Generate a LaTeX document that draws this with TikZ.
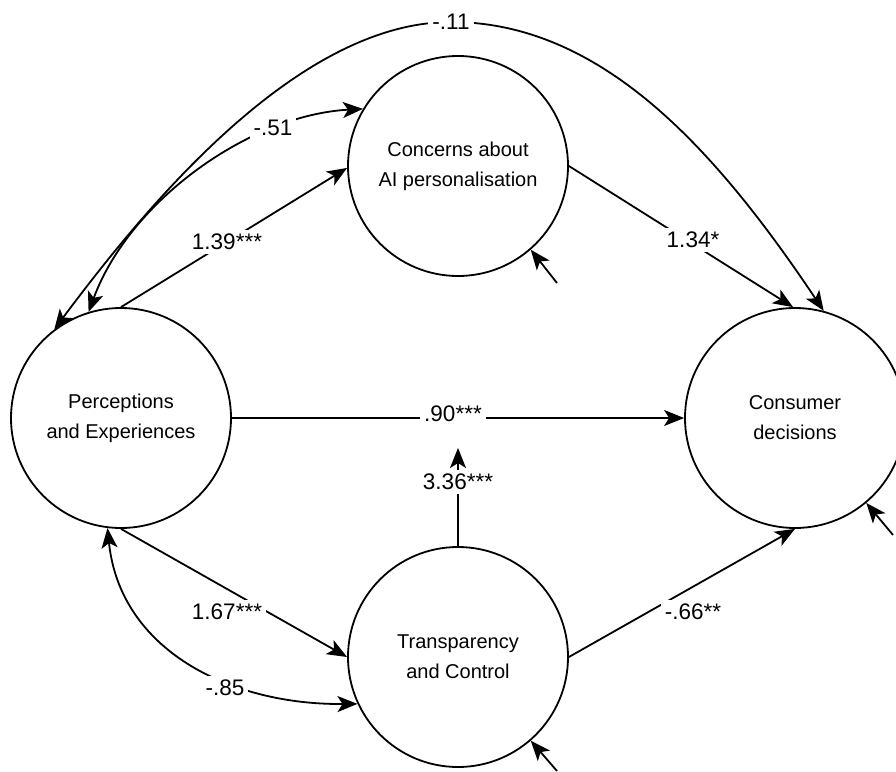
\documentclass[tikz,border=0pt]{standalone}
\usepackage{fontspec}
\setmainfont{Liberation Sans}
\usetikzlibrary{arrows.meta}
\begin{document}
\begin{tikzpicture}[x=1pt,y=-1pt,
  latent/.style={circle,draw,line width=1.8pt,minimum size=220pt,inner sep=0pt,align=center,font=\fontsize{20}{30}\selectfont},
  effect/.style={line width=1.8pt,-{Stealth[length=20pt,width=16pt,inset=5pt]}},
  cov/.style={line width=1.8pt,{Stealth[length=20pt,width=16pt,inset=5pt]}-{Stealth[length=20pt,width=16pt,inset=5pt]}},
  lbl/.style={fill=white,inner sep=4pt,font=\fontsize{22.5}{22.5}\selectfont}]
\clip (0,0) rectangle (896,771);
% latent variables
\node[latent] (P) at (121,418) {Perceptions\\and Experiences};
\node[latent] (C) at (458,166) {Concerns about\\AI personalisation};
\node[latent] (D) at (795,418) {Consumer\\decisions};
\node[latent] (T) at (458,657) {Transparency\\and Control};
% helper coordinates
\coordinate (mod) at (458,448);
\coordinate (eC) at (557,283);
\coordinate (eT) at (557,771);
\coordinate (eD) at (893,535);
% structural paths
\draw[effect] (P.90) -- (C.181);
\draw[effect] (P.270) -- (T.west);
\draw[effect] (C.east) -- (D.91);
\draw[effect] (T.east) -- (D.south);
\draw[effect] (P.east) -- (D.west);
\draw[effect] (T.north) -- (mod);
% covariances
\draw[cov] (P.127) .. controls (153,197) and (301,22) .. (451,22) .. controls (601,22) and (715,148.5) .. (D.75);
\draw[cov] (C.149) .. controls (250,115) and (130,200) .. (P.107);
\draw[cov] (P.263) .. controls (120,650) and (230,705) .. (T.205);
% residuals
\draw[effect] (eC) -- (C.-49);
\draw[effect] (eT) -- (T.-49);
\draw[effect] (eD) -- (D.-50);
% labels
\node[lbl] (l11) at (451,22) {-.11};
\node[lbl] (l51) at (273,128) {-.51};
\node[lbl] (l139) at (227,242) {1.39***};
\node[lbl] (l134) at (693,240) {1.34*};
\node[lbl] (l90) at (453,414) {.90***};
\node[lbl] (l336) at (458,482) {3.36***};
\node[lbl] (l167) at (227,612) {1.67***};
\node[lbl] (l66) at (693,612) {-.66**};
\node[lbl] (l85) at (225,688) {-.85};
\end{tikzpicture}
\end{document}
